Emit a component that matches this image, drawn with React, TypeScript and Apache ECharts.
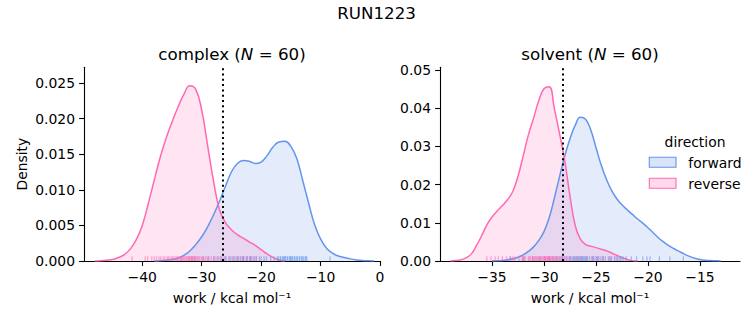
import React, { useEffect, useRef } from "react";
import * as echarts from "echarts";

const FONT = "DejaVu Sans";
const BLUE = "#6495ED";
const PINK = "#FF69B4";
const BLUE_FILL = "rgba(100,149,237,0.25)";
const PINK_FILL = "rgba(255,105,180,0.25)";

// ---------- complex panel ----------
const complexForwardWork = [-38, -37, -36, -35, -34, -33, -32, -31, -30, -29, -28, -27, -26, -25, -24, -23, -22, -21, -20, -19, -18, -17, -16, -15, -14, -13, -12, -11, -10, -9, -8, -7, -6, -5, -4, -3, -2, -1];
const complexForwardDensity = [0, 0.00003, 0.0001, 0.0002, 0.0004, 0.0008, 0.0014, 0.0023, 0.0034, 0.0048, 0.0065, 0.0084, 0.0105, 0.0125, 0.0137, 0.0141, 0.014, 0.0137, 0.0139, 0.0148, 0.016, 0.0167, 0.0168, 0.0161, 0.0144, 0.0113, 0.0081, 0.0051, 0.0031, 0.0018, 0.0011, 0.0007, 0.0005, 0.0003, 0.00015, 0.00006, 0.00002, 0];
const complexReverseWork = [-48, -47, -46, -45, -44, -43, -42, -41, -40, -39, -38, -37, -36, -35, -34, -33, -32, -31, -30, -29, -28, -27, -26, -25, -24, -23, -22, -21, -20, -19, -18, -17, -16];
const complexReverseDensity = [0, 0.00003, 0.0001, 0.0002, 0.0005, 0.0009, 0.0017, 0.003, 0.005, 0.008, 0.0113, 0.0145, 0.0172, 0.0195, 0.0216, 0.0234, 0.0246, 0.0241, 0.0212, 0.0162, 0.0112, 0.0072, 0.0054, 0.0044, 0.0037, 0.0032, 0.0027, 0.0022, 0.0016, 0.001, 0.0005, 0.00015, 0];
const complexForwardRug = [-31.2, -29.8, -28.9, -27.9, -27.3, -26.8, -26.2, -25.9, -25.4, -25.1, -24.7, -24.4, -24.0, -23.8, -23.4, -23.1, -22.9, -22.5, -22.3, -21.9, -21.6, -21.1, -20.8, -20.3, -20.0, -19.5, -19.1, -18.4, -17.8, -17.3, -17.1, -16.8, -16.7, -16.4, -16.3, -16.0, -15.9, -15.6, -15.5, -15.2, -15.1, -14.8, -14.7, -14.4, -14.3, -14.0, -13.9, -13.6, -13.5, -13.2, -13.1, -12.9, -12.6, -12.5, -12.3, -8.4, -23.0, -21.8, -16.1, -15.0];
const complexReverseRug = [-41.7, -39.5, -39.1, -38.4, -38.0, -37.6, -37.2, -36.9, -36.5, -36.2, -35.8, -35.6, -35.3, -35.0, -34.8, -34.5, -34.3, -34.1, -33.9, -33.6, -33.4, -33.2, -33.0, -32.8, -32.6, -32.4, -32.2, -32.0, -31.8, -31.7, -31.5, -31.3, -31.1, -30.9, -30.7, -30.5, -30.3, -30.0, -29.7, -29.4, -29.1, -28.8, -28.4, -28.0, -27.6, -27.1, -26.6, -26.0, -25.4, -24.7, -24.1, -23.5, -23.0, -22.4, -21.9, -21.3, -20.8, -32.1, -31.6, -33.5];
const complexCut = -26.4;
const complexXTicks = [-40, -30, -20, -10, 0];
const complexYTicks = [0, 0.005, 0.01, 0.015, 0.02, 0.025];

// ---------- solvent panel ----------
const solventForwardWork = [-35, -34.5, -34, -33.5, -33, -32.5, -32, -31.5, -31, -30.5, -30, -29.5, -29, -28.5, -28, -27.5, -27, -26.5, -26, -25.5, -25, -24.5, -24, -23.5, -23, -22.5, -22, -21.5, -21, -20.5, -20, -19.5, -19, -18.5, -18, -17.5, -17, -16.5, -16, -15.5, -15, -14.5, -14, -13.5, -13];
const solventForwardDensity = [0, 0.00005, 0.0001, 0.0003, 0.0006, 0.001, 0.0016, 0.0025, 0.0037, 0.0054, 0.0077, 0.0113, 0.0165, 0.0221, 0.0275, 0.032, 0.0355, 0.0376, 0.0371, 0.0343, 0.0297, 0.0251, 0.0214, 0.0185, 0.0163, 0.0147, 0.0134, 0.0122, 0.011, 0.0099, 0.0087, 0.0074, 0.0061, 0.005, 0.004, 0.0032, 0.0025, 0.0018, 0.0012, 0.0007, 0.0004, 0.0002, 0.0001, 0.00005, 0];
const solventReverseWork = [-39, -38.5, -38, -37.5, -37, -36.5, -36, -35.5, -35, -34.5, -34, -33.5, -33, -32.5, -32, -31.5, -31, -30.5, -30, -29.5, -29, -28.5, -28, -27.5, -27, -26.5, -26, -25.5, -25, -24.5, -24, -23.5, -23, -22.5, -22, -21.5, -21];
const solventReverseDensity = [0, 0.0001, 0.0003, 0.0008, 0.0018, 0.004, 0.0066, 0.0094, 0.0115, 0.0131, 0.0145, 0.0161, 0.0182, 0.0222, 0.0275, 0.033, 0.0374, 0.042, 0.0451, 0.0456, 0.0398, 0.0333, 0.0262, 0.017, 0.0093, 0.0057, 0.0043, 0.0039, 0.0035, 0.0031, 0.0027, 0.0021, 0.0015, 0.0009, 0.0004, 0.0001, 0];
const solventForwardRug = [-33.2, -32.0, -31.1, -30.4, -29.9, -29.5, -29.1, -28.8, -28.5, -28.2, -28.0, -27.8, -27.6, -27.4, -27.2, -27.0, -26.9, -26.7, -26.6, -26.4, -26.3, -26.1, -26.0, -25.8, -25.6, -25.4, -25.2, -25.0, -24.8, -24.6, -24.4, -24.1, -23.8, -23.5, -23.2, -22.9, -22.6, -22.4, -22.1, -21.1, -20.5, -19.8, -18.9, -17.9, -16.6, -26.5, -26.2, -27.1, -25.9, -24.9, -23.0, -25.3, -27.5, -28.3, -22.7, -21.6, -20.1, -23.6, -24.3, -26.8];
const solventReverseRug = [-35.5, -35.1, -34.7, -34.4, -33.6, -33.3, -32.8, -32.4, -32.1, -31.8, -31.5, -31.3, -31.1, -30.9, -30.7, -30.5, -30.4, -30.2, -30.1, -30.0, -29.9, -29.8, -29.7, -29.6, -29.5, -29.4, -29.3, -29.2, -29.0, -28.9, -28.7, -28.6, -28.4, -28.2, -28.0, -27.8, -27.5, -27.2, -26.8, -26.4, -25.9, -25.3, -24.8, -24.3, -23.7, -23.2, -30.3, -29.95, -29.65, -30.6, -31.0, -31.4, -32.0, -29.45, -29.15, -28.8, -30.8, -31.9, -33.0, -34.0];
const solventCut = -28.2;
const solventXTicks = [-35, -30, -25, -20, -15];
const solventYTicks = [0, 0.01, 0.02, 0.03, 0.04, 0.05];

const zip = (xs: number[], ys: number[]) => xs.map((x, i) => [x, ys[i]]);
const minus = (v: number) => (v < 0 ? "\u2212" + String(-v) : String(v));

function xAxisFor(grid: number, min: number, max: number, ticks: number[]) {
  return {
    type: "value",
    gridIndex: grid,
    min,
    max,
    name: "work / kcal mol\u207B\u00B9",
    nameLocation: "middle",
    nameGap: 30,
    nameTextStyle: { fontFamily: FONT, fontSize: 13.9, color: "#000" },
    axisLine: { show: true, onZero: false, lineStyle: { color: "#000", width: 1.1 } },
    axisTick: { show: true, inside: false, length: 4.9, customValues: ticks, lineStyle: { color: "#000", width: 1.1 } },
    axisLabel: { customValues: ticks, margin: 9, fontFamily: FONT, fontSize: 13.9, color: "#000", formatter: (v: number) => minus(v) },
    splitLine: { show: false },
  };
}

function yAxisFor(grid: number, max: number, ticks: number[], digits: number, withName: boolean) {
  return {
    type: "value",
    gridIndex: grid,
    min: 0,
    max,
    name: withName ? "Density" : "",
    nameLocation: "middle",
    nameGap: 55,
    nameTextStyle: { fontFamily: FONT, fontSize: 13.9, color: "#000" },
    axisLine: { show: true, onZero: false, lineStyle: { color: "#000", width: 1.1 } },
    axisTick: { show: true, inside: false, length: 4.9, customValues: ticks, lineStyle: { color: "#000", width: 1.1 } },
    axisLabel: { customValues: ticks, margin: 9, fontFamily: FONT, fontSize: 13.9, color: "#000", formatter: (v: number) => v.toFixed(digits) },
    splitLine: { show: false },
  };
}

function kde(name: string, grid: number, xs: number[], ys: number[], color: string, fill: string, cut?: number) {
  const s: any = {
    type: "line",
    name,
    xAxisIndex: grid,
    yAxisIndex: grid,
    data: zip(xs, ys),
    smooth: 0.45,
    showSymbol: false,
    symbol: "none",
    lineStyle: { color, width: 1.5 },
    areaStyle: { color: fill, origin: "start" },
    z: 2,
  };
  if (cut !== undefined) {
    s.markLine = {
      silent: true,
      symbol: "none",
      label: { show: false },
      lineStyle: { color: "#000", type: [2, 3.3], width: 2 },
      data: [{ xAxis: cut }],
      z: 10,
    };
  }
  return s;
}

function rug(grid: number, values: number[], color: string) {
  return {
    type: "scatter",
    xAxisIndex: grid,
    yAxisIndex: grid,
    data: values.map((v) => [v, 0]),
    symbol: "rect",
    symbolSize: [1.3, 4.8],
    symbolOffset: [0, -2.4],
    itemStyle: { color, opacity: 0.55 },
    clip: false,
    silent: true,
    z: 3,
  };
}

export default function App() {
  const ref = useRef<HTMLDivElement>(null);
  useEffect(() => {
    if (!ref.current) return;
    const chart = echarts.init(ref.current, undefined, { renderer: "svg" });
    const titleRich = {
      r: { fontFamily: FONT, fontSize: 16.7, color: "#000" },
      i: { fontFamily: FONT, fontSize: 16.7, fontStyle: "italic", color: "#000" },
    };
    chart.setOption({
      animation: false,
      backgroundColor: "#fff",
      grid: [
        { left: 84, top: 67.3, width: 296, height: 193.7, containLabel: false },
        { left: 440, top: 67.3, width: 300, height: 193.7, containLabel: false },
      ],
      xAxis: [xAxisFor(0, -49.8, 0, complexXTicks), xAxisFor(1, -40, -11.15, solventXTicks)],
      yAxis: [yAxisFor(0, 0.0272, complexYTicks, 3, true), yAxisFor(1, 0.0507, solventYTicks, 2, false)],
      series: [
        kde("forward", 0, complexForwardWork, complexForwardDensity, BLUE, BLUE_FILL),
        kde("reverse", 0, complexReverseWork, complexReverseDensity, PINK, PINK_FILL, complexCut),
        rug(0, complexForwardRug, BLUE),
        rug(0, complexReverseRug, PINK),
        kde("forward", 1, solventForwardWork, solventForwardDensity, BLUE, BLUE_FILL),
        kde("reverse", 1, solventReverseWork, solventReverseDensity, PINK, PINK_FILL, solventCut),
        rug(1, solventForwardRug, BLUE),
        rug(1, solventReverseRug, PINK),
      ],
      graphic: [
        { type: "text", x: 376.5, y: 13, style: { text: "RUN1223", fontFamily: FONT, fontSize: 16.7, fill: "#000", align: "center", verticalAlign: "middle" } },
        { type: "text", x: 232, y: 54, style: { text: "{r|complex (}{i|N}{r| = 60)}", rich: titleRich, align: "center", verticalAlign: "middle" } },
        { type: "text", x: 590, y: 54, style: { text: "{r|solvent (}{i|N}{r| = 60)}", rich: titleRich, align: "center", verticalAlign: "middle" } },
        { type: "text", x: 695, y: 142, style: { text: "direction", fontFamily: FONT, fontSize: 13.9, fill: "#000", align: "center", verticalAlign: "middle" } },
        { type: "rect", shape: { x: 649.3, y: 157.3, width: 26.7, height: 10 }, style: { fill: BLUE_FILL, stroke: BLUE, lineWidth: 1.1 } },
        { type: "text", x: 688.3, y: 162.5, style: { text: "forward", fontFamily: FONT, fontSize: 13.9, fill: "#000", align: "left", verticalAlign: "middle" } },
        { type: "rect", shape: { x: 649.3, y: 178.3, width: 26.7, height: 10 }, style: { fill: PINK_FILL, stroke: PINK, lineWidth: 1.1 } },
        { type: "text", x: 688.3, y: 183.5, style: { text: "reverse", fontFamily: FONT, fontSize: 13.9, fill: "#000", align: "left", verticalAlign: "middle" } },
      ],
    });
    return () => chart.dispose();
  }, []);
  return <div ref={ref} style={{ position: "fixed", left: 0, top: 0, width: 753, height: 325, background: "#fff" }} />;
}
